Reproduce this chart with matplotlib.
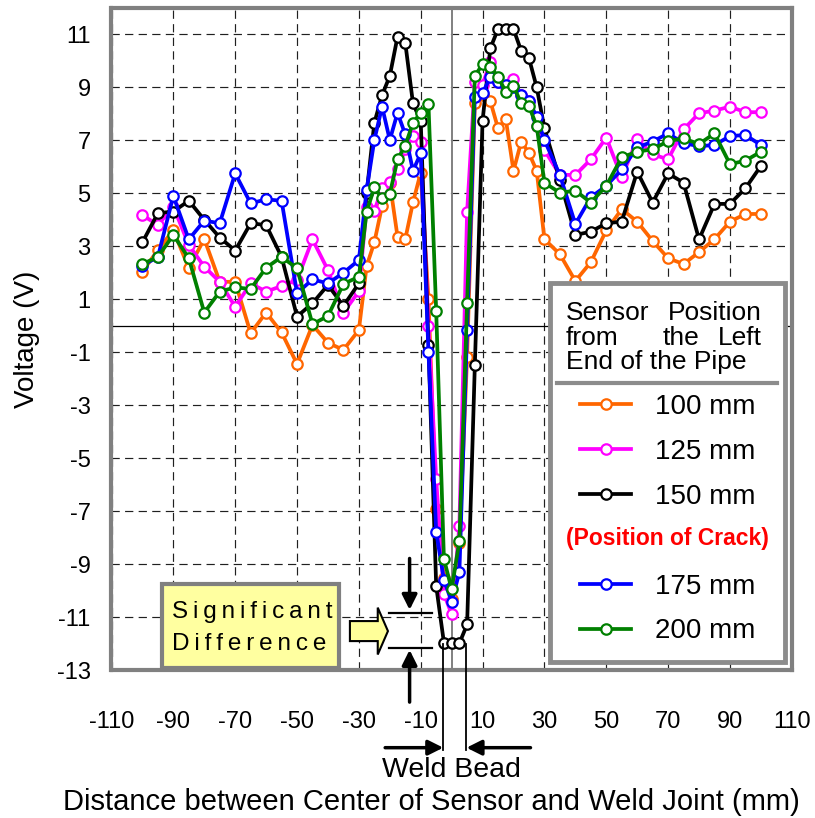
import matplotlib
matplotlib.use("Agg")
import matplotlib.pyplot as plt
from matplotlib.lines import Line2D
from matplotlib.patches import Rectangle, FancyArrow

plt.rcParams['font.family'] = ['Liberation Sans', 'DejaVu Sans']
plt.rcParams['axes.unicode_minus'] = False

# distance between sensor centre and weld joint (mm)
distance = [-100, -95, -90, -85, -80, -75, -70, -65, -60, -55, -50, -45, -40, -35,
            -30, -27.5, -25, -22.5, -20, -17.5, -15, -12.5, -10, -7.5, -5, -2.5, 0,
            2.5, 5, 7.5, 10, 12.5, 15, 17.5, 20, 22.5, 25, 27.5, 30,
            35, 40, 45, 50, 55, 60, 65, 70, 75, 80, 85, 90, 95, 100]

v100 = [2.04, 2.86, 3.61, 2.17, 3.28, 1.66, 1.66, -0.28, 0.5, -0.25, -1.44, 0.03, -0.64, -0.91,
        -0.16, 2.25, 3.15, 4.52, 5.4, 3.36, 3.27, 4.66, 5.78, 1.02, -6.91, -9.5, -10.3,
        -8.2, -1.16, 8.4, 8.7, 8.48, 7.45, 7.8, 5.85, 6.95, 6.52, 5.85, 3.27,
        2.7, 1.69, 2.4, 3.6, 4.4, 3.93, 3.2, 2.55, 2.33, 2.78, 3.27, 3.93, 4.22, 4.22]
v125 = [4.18, 3.8, 4.5, 3.05, 2.23, 1.66, 0.72, 1.6, 1.29, 1.5, 1.73, 3.26, 2.1, 0.5,
        1.3, 4.49, 4.33, 5.2, 5.44, 5.9, 6.66, 7.16, 6.95, 0.0, -5.79, -10.12, -10.88,
        -7.55, 4.3, 9.2, 9.09, 9.97, 9.2, 9.0, 9.3, 8.7, 8.5, 7.55, 6.63,
        5.7, 5.69, 6.28, 7.1, 5.6, 7.04, 6.47, 6.28, 7.41, 8.02, 8.12, 8.27, 8.06, 8.06]
v150 = [3.15, 4.25, 4.31, 4.72, 4.0, 3.33, 2.84, 3.87, 3.8, 2.6, 0.35, 0.85, 1.54, 0.75,
        1.6, 5.0, 7.66, 8.7, 9.43, 10.91, 10.68, 8.39, 7.73, -0.72, -9.82, -11.96, -11.98,
        -11.98, -11.27, -1.48, 7.74, 10.47, 11.2, 11.2, 11.2, 10.37, 10.1, 9.0, 7.45,
        5.5, 3.43, 3.55, 3.87, 3.93, 5.82, 4.65, 5.75, 5.4, 3.26, 4.6, 4.6, 5.19, 6.03]
v175 = [2.27, 2.6, 4.9, 3.26, 3.97, 3.87, 5.75, 4.62, 4.77, 4.72, 1.23, 1.75, 1.6, 2.0,
        2.48, 5.12, 7.01, 8.27, 7.01, 8.04, 7.22, 5.85, 6.51, -0.98, -7.77, -9.59, -10.41,
        -9.3, -0.16, 8.65, 8.77, 9.4, 9.21, 9.1, 9.0, 8.7, 8.48, 7.89, 7.01,
        5.69, 3.84, 4.85, 5.28, 5.9, 6.73, 6.95, 7.26, 6.89, 6.78, 6.82, 7.16, 7.2, 6.82]
v200 = [2.33, 2.6, 3.43, 2.55, 0.5, 1.29, 1.45, 1.39, 2.19, 2.6, 2.17, 0.06, 0.37, 1.58,
        1.85, 4.3, 5.22, 4.81, 4.97, 6.28, 6.8, 7.66, 8.04, 8.36, 0.57, -8.8, -9.94,
        -8.12, 0.87, 9.43, 9.87, 9.78, 9.4, 8.83, 9.05, 8.39, 8.29, 7.54, 5.4,
        5.02, 5.1, 4.65, 5.28, 6.36, 6.57, 6.66, 6.97, 7.07, 6.86, 7.26, 6.1, 6.23, 6.57]

series = [v100, v125, v150, v175, v200]
labels = ['100 mm', '125 mm', '150 mm', '175 mm', '200 mm']
colors = ['#ff6600', '#ff00ff', '#000000', '#0000ff', '#008000']

xticks = [-110, -90, -70, -50, -30, -10, 10, 30, 50, 70, 90, 110]
yticks = [-13, -11, -9, -7, -5, -3, -1, 1, 3, 5, 7, 9, 11]

W, H = 815, 818
fig = plt.figure(figsize=(W / 100, H / 100), dpi=100)
ax = fig.add_axes([111.5 / W, 1 - 670.3 / H, 680.3 / W, 662.5 / H])

lines = []
for vals, lab, col in zip(series, labels, colors):
    ln, = ax.plot(distance, vals, color=col, lw=2.7, marker='o', ms=7.5,
                  mfc='white', mec=col, mew=1.6, label=lab, zorder=3)
    lines.append(ln)

ax.set_xlim(-110, 110)
ax.set_ylim(-13, 12)
ax.set_xticks(xticks)
ax.set_xticklabels([str(t) for t in xticks])
ax.set_yticks(yticks)
ax.set_yticklabels([str(t) for t in yticks])
ax.tick_params(axis='both', length=0, labelsize=17)
ax.tick_params(axis='x', pad=29)
ax.tick_params(axis='y', pad=15)

ax.set_axisbelow(True)
ax.grid(True, color='#202020', lw=0.85, ls=(0, (7, 4.5)))
ax.axhline(0, color='black', lw=0.9, zorder=1)
ax.axvline(0, color='#808080', lw=1.4, zorder=1)

for sp in ax.spines.values():
    sp.set_color('#808080')
    sp.set_linewidth(3)

ax.set_ylabel('Voltage (V)', fontsize=20)
ax.yaxis.set_label_coords(-0.124, 0.5)
ax.yaxis.label.set_va('center')
ax.set_xlabel('Distance between Center of Sensor and Weld Joint (mm)', fontsize=21)
ax.xaxis.set_label_coords(0.4697, -0.199)
ax.xaxis.label.set_va('center')

# weld bead marks
for xb in [-2.7, 4.6]:
    ax.plot([xb, xb], [-12.0, -16.0], color='black', lw=1.3, clip_on=False, zorder=4)
arrow_kw = dict(arrowstyle='-|>,head_length=0.9,head_width=0.45', color='black', lw=2.5,
                shrinkA=0, shrinkB=0)
ax.annotate('', xy=(-2.7, -15.92), xytext=(-21.5, -15.92), arrowprops=arrow_kw,
            annotation_clip=False)
ax.annotate('', xy=(4.8, -15.92), xytext=(25.5, -15.92), arrowprops=arrow_kw,
            annotation_clip=False)
ax.text(-0.2, -16.76, 'Weld Bead', ha='center', va='center', fontsize=20.5, clip_on=False)

# significant difference marks
for yv in [-10.84, -12.16]:
    ax.plot([-20.2, -6.3], [yv, yv], color='black', lw=1.6, zorder=4)
ax.annotate('', xy=(-13.6, -10.72), xytext=(-13.6, -8.78), arrowprops=arrow_kw)
ax.annotate('', xy=(-13.6, -12.23), xytext=(-13.6, -14.2), arrowprops=arrow_kw,
            annotation_clip=False)
ax.add_patch(FancyArrow(-32.9, -11.52, 12.3, 0, width=0.755, head_width=1.77,
                        head_length=3.3, length_includes_head=True, fc='#ffff99',
                        ec='black', lw=1.5, zorder=5))
ax.add_patch(Rectangle((-93.7, -12.9), 57.3, 3.16, fc='#ffffa0', ec='#808080',
                       lw=3, zorder=5, clip_on=False))
thin = '\u2009'
ax.text(-90.5, -11.04, thin.join('Significant'), fontsize=17.5, ha='left', va='baseline',
        zorder=6)
ax.text(-90.5, -12.25, thin.join('Difference'), fontsize=17.5, ha='left', va='baseline',
        zorder=6)

# legend box
fig.patches.append(Rectangle((550 / W, 1 - 662 / H), 235 / W, 379 / H, fc='white',
                             ec='#8c8c8c', lw=3.5, transform=fig.transFigure,
                             figure=fig, zorder=10))
fig.lines.append(Line2D([557 / W, 777 / W], [1 - 383 / H, 1 - 383 / H], color='#8c8c8c',
                        lw=3, transform=fig.transFigure, figure=fig, zorder=11))
title_rows = [(['Sensor', 'Position'], 313), (['from', 'the', 'Left'], 338),
              (['End of the Pipe'], 362)]
for words, yy in title_rows:
    if len(words) == 1:
        fig.text(566 / W, 1 - yy / H, words[0], fontsize=19, ha='left', va='center',
                 zorder=12)
        continue
    n = len(words)
    for i, w in enumerate(words):
        xx = 566 + (762 - 566) * i / (n - 1)
        ha = 'left' if i == 0 else ('right' if i == n - 1 else 'center')
        if ha == 'center':
            xx = 681
        fig.text(xx / W, 1 - yy / H, w, fontsize=19, ha=ha, va='center', zorder=12)

blank = Line2D([], [], color='none')
handles = lines[:3] + [blank] + lines[3:]
leg_labels = labels[:3] + [' '] + labels[3:]
leg = fig.legend(handles, leg_labels, loc='upper left',
                 bbox_to_anchor=(580 / W, 1 - 394 / H), bbox_transform=fig.transFigure,
                 frameon=False, fontsize=20, handlelength=1.85, handletextpad=0.85,
                 labelspacing=0.68, borderpad=0, borderaxespad=0)
leg.set_zorder(12)
fig.text(667 / W, 1 - 538 / H, '(Position of Crack)', color='#ff0000', fontsize=16.5,
         fontweight='bold', ha='center', va='center', zorder=12)

fig.savefig('out.png', dpi=100)
